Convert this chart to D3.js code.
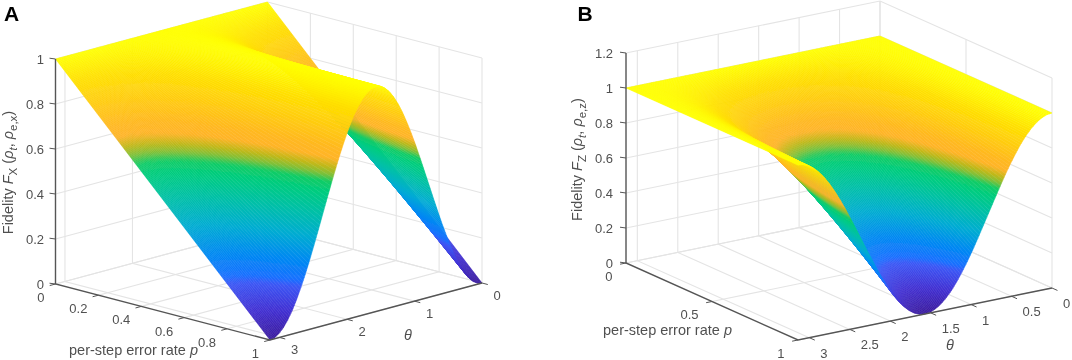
<!DOCTYPE html>
<html><head><meta charset="utf-8">
<script src="https://cdn.jsdelivr.net/npm/d3@7"></script>
<style>html,body{margin:0;padding:0;background:#fff}svg{display:block;filter:blur(.3px)}text{font-family:"Liberation Sans",Arial,sans-serif}</style>
</head><body><div id="chart"></div>
<script>
// ---- data ----
const thetaGrid = [0,.065,.131,.196,.262,.327,.393,.458,.523,.589,.654,.72,.785,.851,.916,.981,1.047,1.112,1.178,1.243,1.309,1.374,1.44,1.505,1.57,1.635,1.701,1.766,1.832,1.897,1.963,2.028,2.093,2.159,2.224,2.29,2.355,2.42,2.486,2.551,2.617,2.682,2.748,2.813,2.878,2.944,3.009,3.075,3.14];
const pGrid = [0, 1];
const fxAtP0 = [1,1,1,1,1,1,1,1,1,1,1,1,1,1,1,1,1,1,1,1,1,1,1,1,1,1,1,1,1,1,1,1,1,1,1,1,1,1,1,1,1,1,1,1,1,1,1,1,1];
const fxAtP1 = [0,.004,.017,.038,.067,.103,.146,.196,.25,.309,.371,.435,.5,.565,.629,.691,.75,.804,.854,.897,.933,.962,.983,.996,1,.996,.983,.962,.933,.897,.854,.804,.75,.691,.629,.565,.5,.435,.371,.309,.25,.196,.146,.103,.067,.038,.017,.004,0];
const fzAtP0 = [1,1,1,1,1,1,1,1,1,1,1,1,1,1,1,1,1,1,1,1,1,1,1,1,1,1,1,1,1,1,1,1,1,1,1,1,1,1,1,1,1,1,1,1,1,1,1,1,1];
const fzAtP1 = [1,.996,.983,.962,.933,.897,.854,.804,.75,.691,.629,.565,.5,.435,.371,.309,.25,.196,.146,.103,.067,.038,.017,.004,0,.004,.017,.038,.067,.103,.146,.196,.25,.309,.371,.435,.5,.565,.629,.691,.75,.804,.854,.897,.933,.962,.983,.996,1];
const aPTicks = [0,.2,.4,.6,.8,1];
const aThetaTicks = [0,1,2,3];
const aZTicks = [0,.2,.4,.6,.8,1];
const bPTicks = [0,.5,1];
const bThetaTicks = [0,.5,1,1.5,2,2.5,3];
const bZTicks = [0,.2,.4,.6,.8,1,1.2];
const colorStops  = [0,.1,.2,.222,.3,.4,.5,.58,.625,.655,.685,.72,.76,.92,1];
const colorValues = ["#3a1a9c","#4230d2","#3c58f6","#1870ff","#0088f2","#00acd2","#00c0a6","#00cc80","#10cc66","#80c038","#c0b818","#ffb428","#ffb820","#ffe000","#ffff00"];

// ---- layout ----
const W=1072,H=360,THETA_MAX=3.14;
const panels=[
 {id:"A",L:[55.5,284],F:[270,340],R:[482,283],zMax:1,zPx:225,rows:[fxAtP0,fxAtP1],
  pT:aPTicks,tT:aThetaTicks,zT:aZTicks,letter:[4,21],zEnd:44,pOff:[-11,18],tOff:[11.5,17],
  pLab:[69,355],tLab:[408,340],yLab:[13,172.5],sub:"X",sub2:"e,x"},
 {id:"B",L:[626,263],F:[798,340],R:[1052,288],zMax:1.2,zPx:210,rows:[fzAtP0,fzAtP1],
  pT:bPTicks,tT:bThetaTicks,zT:bZTicks,letter:[577.5,21],zEnd:613,pOff:[-13.5,17.5],tOff:[11,20],
  pLab:[603,335],tLab:[950,350],yLab:[582,159.5],sub:"Z",sub2:"e,z"}
];
const color=d3.scaleLinear().domain(colorStops).range(colorValues).interpolate(d3.interpolateRgb).clamp(true);
const svg=d3.select("#chart").append("svg").attr("width",W).attr("height",H).attr("viewBox",[0,0,W,H]);
const defs=svg.append("defs");
const f=defs.append("filter").attr("id","soft").attr("x","-5%").attr("y","-5%").attr("width","110%").attr("height","110%");
f.append("feGaussianBlur").attr("stdDeviation",.7);
const TICK="#505050",AXIS="#555",GRID="#e4e4e4",FS=13,LFS=14.5;

panels.forEach(P=>{
  const g=svg.append("g").attr("id","panel"+P.id);
  const sp=d3.scaleLinear().domain([0,1]).range([0,1]);
  const st=d3.scaleLinear().domain([THETA_MAX,0]).range([0,1]);
  const sz=d3.scaleLinear().domain([0,P.zMax]).range([0,P.zPx]);
  const ux=[P.F[0]-P.L[0],P.F[1]-P.L[1]],vx=[P.R[0]-P.F[0],P.R[1]-P.F[1]];
  const proj=(p,t,z)=>[P.L[0]+sp(p)*ux[0]+st(t)*vx[0],P.L[1]+sp(p)*ux[1]+st(t)*vx[1]-sz(z)];
  const line=d3.line();
  const gridG=g.append("g").attr("fill","none").attr("stroke",GRID).attr("stroke-width",1.1);
  const grid=[];
  P.zT.forEach(z=>{grid.push([proj(0,THETA_MAX,z),proj(0,0,z),proj(1,0,z)]);});
  P.tT.forEach(t=>{grid.push([proj(1,t,0),proj(0,t,0),proj(0,t,P.zMax)]);});
  P.pT.forEach(p=>{grid.push([proj(p,THETA_MAX,0),proj(p,0,0),proj(p,0,P.zMax)]);});
  gridG.selectAll("path").data(grid).join("path").attr("d",line);

  // surface: thin strips of constant theta, back (theta=0) to front, each shaded along p
  const mix=(a,b,k)=>d3.interpolateNumber(a,b)(k);
  const zAt=(p,i,k)=>mix(mix(P.rows[0][i],P.rows[1][i],p),mix(P.rows[0][i+1],P.rows[1][i+1],p),k);
  const strips=[],NT=4,NS=60;
  for(let i=0;i<thetaGrid.length-1;i++){
    for(let a=0;a<NT;a++){
      const k0=a/NT,k1=(a+1)/NT,km=(k0+k1)/2;
      const t0=mix(thetaGrid[i],thetaGrid[i+1],k0),t1=mix(thetaGrid[i],thetaGrid[i+1],k1),tm=(t0+t1)/2;
      const pts=pGrid.map(p=>proj(p,t0,zAt(p,i,k0))).concat(pGrid.slice().reverse().map(p=>proj(p,t1,zAt(p,i,k1))));
      const start=proj(0,tm,zAt(0,i,km)),end=proj(1,tm,zAt(1,i,km));
      // iso-colour lines run level on screen unless the strip itself is nearly level
      const steep=Math.abs(end[1]-start[1])>.5*Math.abs(end[0]-start[0]);
      const stops=d3.range(NS+1).map(s=>({off:s/NS,col:color(zAt(s/NS,i,km))}));
      strips.push({id:`g${P.id}${i}_${a}`,pts,start,end:steep?[start[0],end[1]]:end,stops});
    }
  }
  const grads=defs.selectAll(null).data(strips).join("linearGradient")
    .attr("id",d=>d.id).attr("gradientUnits","userSpaceOnUse")
    .attr("x1",d=>d.start[0]).attr("y1",d=>d.start[1]).attr("x2",d=>d.end[0]).attr("y2",d=>d.end[1]);
  grads.selectAll("stop").data(d=>d.stops).join("stop").attr("offset",d=>d.off).attr("stop-color",d=>d.col);
  g.append("g").attr("filter","url(#soft)").selectAll("polygon").data(strips).join("polygon")
    .attr("points",d=>d.pts.map(c=>c[0].toFixed(2)+","+c[1].toFixed(2)).join(" "))
    .attr("fill",d=>`url(#${d.id})`).attr("stroke",d=>`url(#${d.id})`).attr("stroke-width",.5);

  // axes
  const ax=g.append("g").attr("fill","none").attr("stroke",AXIS);
  ax.append("path").attr("stroke-width",1.4).attr("d",line([proj(0,THETA_MAX,P.zMax),proj(0,THETA_MAX,0),proj(1,THETA_MAX,0),proj(1,0,0)]));
  const lab=g.append("g").attr("fill",TICK).attr("font-size",FS);
  const nLF=Math.hypot(...ux);
  const backL=[-vx[0],-vx[1]],nB=Math.hypot(...backL);
  P.zT.forEach(z=>{
    const c=proj(0,THETA_MAX,z);
    ax.append("path").attr("stroke-width",1).attr("d",line([c,[c[0]-6,c[1]-.8]]));
    lab.append("text").attr("x",P.zEnd).attr("y",c[1]+4.6).attr("text-anchor","end").text(z);
  });
  P.pT.forEach(p=>{
    const c=proj(p,THETA_MAX,0);
    ax.append("path").attr("stroke-width",1).attr("d",line([c,[c[0]+backL[0]/nB*6,c[1]+backL[1]/nB*6]]));
    lab.append("text").attr("x",c[0]+P.pOff[0]).attr("y",c[1]+P.pOff[1]).attr("text-anchor","end").text(p);
  });
  P.tT.forEach(t=>{
    const c=proj(1,t,0);
    ax.append("path").attr("stroke-width",1).attr("d",line([c,[c[0]+ux[0]/nLF*6,c[1]+ux[1]/nLF*6]]));
    lab.append("text").attr("x",c[0]+P.tOff[0]).attr("y",c[1]+P.tOff[1]).text(t);
  });
  // axis titles
  const pl=lab.append("text").attr("x",P.pLab[0]).attr("y",P.pLab[1]).attr("font-size",LFS);
  pl.append("tspan").text("per-step error rate ");
  pl.append("tspan").attr("font-style","italic").text("p");
  lab.append("text").attr("x",P.tLab[0]).attr("y",P.tLab[1]).attr("text-anchor","middle").attr("font-style","italic").attr("font-size",LFS).text("θ");
  const yl=lab.append("text").attr("transform",`translate(${P.yLab[0]},${P.yLab[1]}) rotate(-90)`).attr("text-anchor","middle").attr("font-size",LFS);
  yl.append("tspan").text("Fidelity ");
  yl.append("tspan").attr("font-style","italic").text("F");
  yl.append("tspan").attr("dy",3.5).attr("font-size",11.5).text(P.sub);
  yl.append("tspan").attr("dy",-3.5).text(" (");
  yl.append("tspan").attr("font-style","italic").text("ρ");
  yl.append("tspan").attr("dy",3.5).attr("font-size",11.5).attr("font-style","italic").text("t");
  yl.append("tspan").attr("dy",-3.5).text(", ");
  yl.append("tspan").attr("font-style","italic").text("ρ");
  yl.append("tspan").attr("dy",3.5).attr("font-size",11.5).text(P.sub2);
  yl.append("tspan").attr("dy",-3.5).text(")");
  g.append("text").attr("x",P.letter[0]).attr("y",P.letter[1]).attr("font-size",21).attr("font-weight","bold").attr("fill","#000").text(P.id);
});
</script></body></html>
